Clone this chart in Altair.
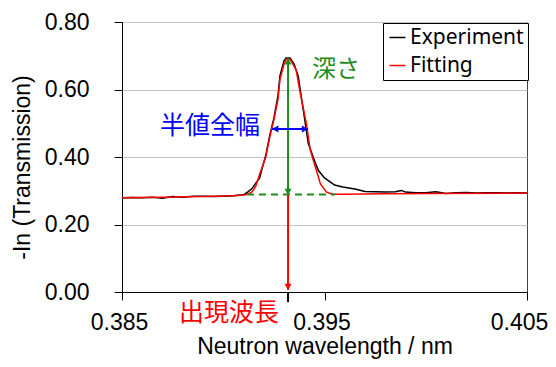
import altair as alt
import pandas as pd

# ---- data ----
exp_wl = [0.3850, 0.3855, 0.3860, 0.3865, 0.3870, 0.3875, 0.3880, 0.3885, 0.3890, 0.3895,
          0.3900, 0.3905, 0.3910, 0.3912, 0.3914, 0.3916, 0.3918, 0.3919, 0.3921, 0.3923,
          0.3925, 0.3927, 0.3928, 0.3930, 0.3931, 0.3933, 0.3935, 0.3937, 0.3938, 0.3940,
          0.3942, 0.3945, 0.3947, 0.3950, 0.3955, 0.3959, 0.3965, 0.3970, 0.3975, 0.3980,
          0.3985, 0.3988, 0.3990, 0.3995, 0.4000, 0.4005, 0.4010, 0.4015, 0.4020, 0.4025,
          0.4030, 0.4035, 0.4040, 0.4045, 0.4050]
exp_val = [0.279, 0.280, 0.279, 0.281, 0.278, 0.283, 0.281, 0.284, 0.284, 0.283,
           0.284, 0.285, 0.288, 0.296, 0.305, 0.322, 0.338, 0.362, 0.405, 0.465,
           0.515, 0.580, 0.640, 0.685, 0.693, 0.693, 0.675, 0.640, 0.600, 0.520,
           0.440, 0.390, 0.360, 0.338, 0.317, 0.311, 0.305, 0.298, 0.297, 0.296,
           0.297, 0.301, 0.296, 0.294, 0.294, 0.297, 0.292, 0.294, 0.295, 0.293,
           0.294, 0.294, 0.293, 0.294, 0.293]

fit_wl = [0.3850, 0.3870, 0.3890, 0.3905, 0.3911, 0.3914, 0.3916, 0.3918, 0.3921, 0.3923,
          0.3925, 0.3927, 0.3928, 0.3930, 0.3931, 0.3933, 0.3936, 0.3938, 0.3941, 0.3943,
          0.3946, 0.3948, 0.3951, 0.3954, 0.3960, 0.3980, 0.4000, 0.4050]
fit_val = [0.279, 0.281, 0.283, 0.285, 0.288, 0.295, 0.312, 0.350, 0.400, 0.460,
           0.510, 0.570, 0.630, 0.675, 0.690, 0.690, 0.658, 0.590, 0.500, 0.420,
           0.360, 0.320, 0.296, 0.290, 0.290, 0.291, 0.292, 0.293]

series_names = ["Experiment", "Fitting"]
series_colors = ["#000000", "#ff0000"]

x_ticks = [0.385, 0.395, 0.405]
y_ticks = [0.0, 0.2, 0.4, 0.6, 0.8]

# annotation segments: x, x2, y, y2, colour
seg_x = [0.3932, 0.39241, 0.3932, 0.3932]
seg_x2 = [0.3932, 0.39419, 0.3932, 0.3932]
seg_y = [0.693, 0.483, 0.287, 0.0]
seg_y2 = [0.287, 0.483, 0.006, -0.03]
seg_col = ["#1c8c1c", "#0000ff", "#ff0000", "#000000"]

dash_x = [0.39117]
dash_x2 = [0.39552]
dash_y = [0.289]
dash_col = ["#1c8c1c"]

# arrowheads: tip position, colour, direction
head_x = [0.3932, 0.3932, 0.39241, 0.39419, 0.3932]
head_y = [0.693, 0.287, 0.483, 0.483, 0.006]
head_col = ["#1c8c1c", "#1c8c1c", "#0000ff", "#0000ff", "#ff0000"]
head_dir = ["up", "down", "left", "right", "down"]
paths = {
    "up": "M0,0L1,1.8L-1,1.8Z",
    "down": "M0,0L1,-1.8L-1,-1.8Z",
    "left": "M0,0L1.8,-1L1.8,1Z",
    "right": "M0,0L-1.8,-1L-1.8,1Z",
}

# text labels
lab_text = ["深さ", "半値全幅", "出現波長"]
lab_x = [0.39557, 0.38935, 0.39028]
lab_y = [0.658, 0.492, -0.062]
lab_col = ["#1c8c1c", "#0000ff", "#ff0000"]
lab_size = [24, 25, 25]

# ---- tables ----
df = pd.concat([
    pd.DataFrame({"wl": exp_wl, "val": exp_val, "series": "Experiment", "order": 0}),
    pd.DataFrame({"wl": fit_wl, "val": fit_val, "series": "Fitting", "order": 1}),
])
seg_df = pd.DataFrame({"x": seg_x, "x2": seg_x2, "y": seg_y, "y2": seg_y2, "c": seg_col})
dash_df = pd.DataFrame({"x": dash_x, "x2": dash_x2, "y": dash_y, "c": dash_col})
head_df = pd.DataFrame({"x": head_x, "y": head_y, "c": head_col,
                        "shape": [paths[d] for d in head_dir]})
lab_df = pd.DataFrame({"t": lab_text, "x": lab_x, "y": lab_y, "c": lab_col, "s": lab_size})

xscale = alt.Scale(domain=[0.385, 0.405], nice=False, zero=False)
yscale = alt.Scale(domain=[0.0, 0.8], nice=False, zero=False)

FONT = "Liberation Sans"

x_axis = alt.Axis(values=x_ticks, format=".3f", grid=False, tickSize=8, tickColor="#000",
                  domainColor="#000", labelFont=FONT, labelFontSize=23, labelColor="#000",
                  labelPadding=11, labelFlush=False, labelOverlap=False,
                  labelOffset={"condition": {"test": "datum.value > 0.404", "value": -8},
                               "value": -3},
                  title="Neutron wavelength / nm", titleFont=FONT,
                  titleFontSize=23, titleFontWeight="normal", titleColor="#000",
                  titleY=61, titleBaseline="alphabetic")
y_axis = alt.Axis(values=y_ticks, format=".2f", grid=True, gridColor="#c4c4c4",
                  tickSize=8, tickColor="#000", domainColor="#000", labelFont=FONT,
                  labelFontSize=23, labelColor="#000", labelPadding=25, labelFlush=False,
                  title="-In (Transmission)", titleFont=FONT, titleFontSize=23,
                  titleFontWeight="normal", titleColor="#000", titleX=-100, titleY=145,
                  titleBaseline="middle", titleAngle=-90)

lines = alt.Chart(df).mark_line(strokeWidth=1.5).encode(
    x=alt.X("wl:Q", scale=xscale, axis=x_axis),
    y=alt.Y("val:Q", scale=yscale, axis=y_axis),
    color=alt.Color("series:N", scale=alt.Scale(domain=series_names, range=series_colors),
                    legend=alt.Legend(orient="none", legendX=261, legendY=1, title=None,
                                      strokeColor="#000", fillColor="#fff", padding=4,
                                      symbolType="stroke", symbolSize=256,
                                      symbolStrokeWidth=1.5, labelFont="Noto Sans",
                                      labelFontSize=21, labelColor="#000", labelOffset=2,
                                      rowPadding=6)),
    order="order:Q",
)

segs = alt.Chart(seg_df).mark_rule(strokeWidth=2).encode(
    x="x:Q", x2="x2:Q", y="y:Q", y2="y2:Q",
    color=alt.Color("c:N", scale=None),
)
dash = alt.Chart(dash_df).mark_rule(strokeWidth=2, strokeDash=[7, 5]).encode(
    x="x:Q", x2="x2:Q", y="y:Q",
    color=alt.Color("c:N", scale=None),
)
heads = alt.Chart(head_df).mark_point(filled=True, size=49, opacity=1, strokeWidth=0).encode(
    x="x:Q", y="y:Q",
    color=alt.Color("c:N", scale=None),
    shape=alt.Shape("shape:N", scale=None),
)
labels = alt.Chart(lab_df).mark_text(font="Noto Sans CJK JP", align="center",
                                     baseline="middle").encode(
    x="x:Q", y="y:Q", text="t:N",
    color=alt.Color("c:N", scale=None),
    size=alt.Size("s:Q", scale=None),
)

chart = alt.layer(lines, dash, segs, heads, labels).properties(
    width=405, height=270,
    autosize=alt.AutoSizeParams(type="none"),
    padding={"left": 114, "top": 14, "right": 21, "bottom": 67},
).configure_view(stroke="#404040", strokeWidth=1)

chart.save("out.html", embed_options={"renderer": "svg", "actions": False})
